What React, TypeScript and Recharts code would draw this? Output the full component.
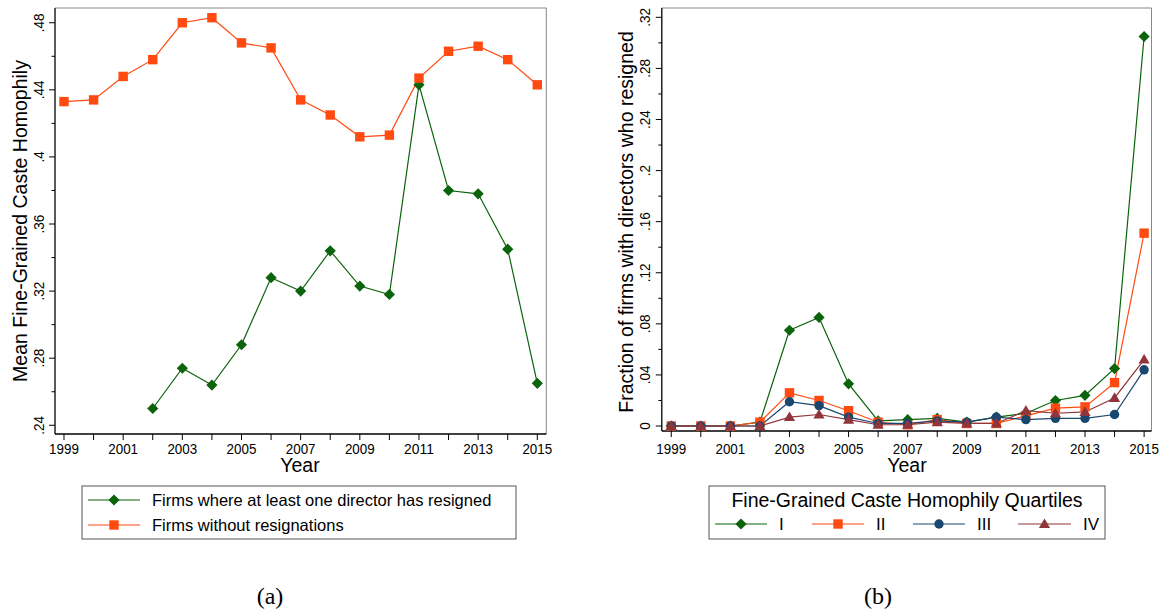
import React from 'react';
import { LineChart, Line, XAxis, YAxis, ReferenceLine } from 'recharts';

const years = [1999, 2000, 2001, 2002, 2003, 2004, 2005, 2006, 2007, 2008, 2009, 2010, 2011, 2012, 2013, 2014, 2015];

// panel (a)
const resignedMean = [null, null, null, 0.250, 0.274, 0.264, 0.288, 0.328, 0.320, 0.344, 0.323, 0.318, 0.443, 0.380, 0.378, 0.345, 0.265];
const noResignMean = [0.433, 0.434, 0.448, 0.458, 0.480, 0.483, 0.468, 0.465, 0.434, 0.425, 0.412, 0.413, 0.447, 0.463, 0.466, 0.458, 0.443];

// panel (b), quartiles I-IV
const q1 = [0, 0, 0, 0.003, 0.075, 0.085, 0.033, 0.004, 0.005, 0.006, 0.003, 0.007, 0.010, 0.020, 0.024, 0.045, 0.305];
const q2 = [0, 0, 0, 0.003, 0.026, 0.020, 0.012, 0.003, 0.001, 0.005, 0.002, 0.002, 0.008, 0.014, 0.015, 0.034, 0.151];
const q3 = [0, 0, 0, 0, 0.019, 0.016, 0.007, 0.002, 0.002, 0.004, 0.003, 0.007, 0.005, 0.006, 0.006, 0.009, 0.044];
const q4 = [0, 0, 0, 0, 0.007, 0.009, 0.005, 0.001, 0.001, 0.003, 0.002, 0.002, 0.012, 0.010, 0.011, 0.022, 0.052];

const ticksA = [0.24, 0.26, 0.28, 0.30, 0.32, 0.34, 0.36, 0.38, 0.40, 0.42, 0.44, 0.46, 0.48];
const ticksB = [0, 0.02, 0.04, 0.06, 0.08, 0.10, 0.12, 0.14, 0.16, 0.18, 0.20, 0.22, 0.24, 0.26, 0.28, 0.30, 0.32];

const FONT = '"Liberation Sans", Arial, sans-serif';
const SERIF = '"Liberation Serif", "Times New Roman", serif';
const GREEN = '#0b640b';
const ORANGE = '#ff4a12';
const NAVY = '#1a476f';
const MAROON = '#90353b';

const fmt = (v: number) => {
  if (Math.abs(v) < 1e-9) return '0';
  return String(Number(v.toFixed(2))).replace(/^0/, '');
};

// width in em of a numeric label (digits 0.556, dot 0.278)
const numEm = (s: string) => s.split('').reduce((a, c) => a + (c === '.' ? 0.278 : 0.556), 0);

function Marker({ shape, cx, cy, color }: { shape: string; cx: number; cy: number; color: string }) {
  if (shape === 'diamond') {
    const r = 5.6;
    return <polygon points={`${cx},${cy - r} ${cx + r},${cy} ${cx},${cy + r} ${cx - r},${cy}`} fill={color} />;
  }
  if (shape === 'square') return <rect x={cx - 4.7} y={cy - 4.7} width={9.4} height={9.4} fill={color} />;
  if (shape === 'circle') return <circle cx={cx} cy={cy} r={4.7} fill={color} />;
  return <polygon points={`${cx},${cy - 5.6} ${cx + 5.6},${cy + 4} ${cx - 5.6},${cy + 4}`} fill={color} />;
}

const dotFn = (shape: string, color: string) => (p: any) => {
  if (p.value == null || p.cy == null || Number.isNaN(p.cy)) return <g key={`n${p.index}`} />;
  return <Marker key={`d${p.index}`} shape={shape} cx={p.cx} cy={p.cy} color={color} />;
};

const XTick = (bottom: number, labelY: number) => (props: any) => {
  const { x, payload } = props;
  const yr = payload.value;
  const s = String(yr);
  return (
    <g>
      <line x1={x} x2={x} y1={bottom} y2={bottom + 6} stroke="#000" strokeWidth={1} />
      {yr % 2 === 1 && (
        <text x={x} y={labelY} textAnchor="middle" fontSize={15.5} fontFamily={FONT} fill="#000"
          textLength={numEm(s) * 13.4} lengthAdjust="spacingAndGlyphs">
          {s}
        </text>
      )}
    </g>
  );
};

const YTick = (left: number, gap: number) => (props: any) => {
  const { y, payload } = props;
  const v = payload.value;
  const major = Math.round(v * 100) % 4 === 0;
  const lx = left - gap;
  const s = fmt(v);
  return (
    <g>
      <line x1={left - (major ? 6 : 3.5)} x2={left} y1={y} y2={y} stroke="#000" strokeWidth={1} />
      {major && (
        <text x={lx} y={y} transform={`rotate(-90 ${lx} ${y})`} textAnchor="middle" fontSize={14.8} fontFamily={FONT} fill="#000"
          textLength={numEm(s) * 13.5} lengthAdjust="spacingAndGlyphs">
          {s}
        </text>
      )}
    </g>
  );
};

const dataA = years.map((year, i) => ({ year, resigned: resignedMean[i], noResign: noResignMean[i] }));
const dataB = years.map((year, i) => ({ year, q1: q1[i], q2: q2[i], q3: q3[i], q4: q4[i] }));

function PanelA() {
  const left = 55;
  const bottom = 434;
  const dom: [number, number] = [0.2348, 0.4888];
  const xmax = 2015.304;
  return (
    <LineChart width={580} height={480} data={dataA} margin={{ top: 8, right: 33.7, bottom: 0, left: 0 }}>
      <XAxis dataKey="year" type="number" domain={[1998.696, xmax]} ticks={years} interval={0} height={46}
        tickLine={false} tick={XTick(bottom, 454)} axisLine={{ stroke: '#000', strokeWidth: 1.3 }} allowDataOverflow />
      <YAxis type="number" domain={dom} ticks={ticksA} interval={0} width={left} tickLine={false}
        tick={YTick(left, 11)} axisLine={{ stroke: '#000', strokeWidth: 1.3 }} allowDataOverflow />
      <ReferenceLine y={dom[1]} stroke="#888" strokeWidth={1} />
      <ReferenceLine x={xmax} stroke="#888" strokeWidth={1} />
      <Line dataKey="resigned" stroke={GREEN} strokeWidth={1.2} dot={dotFn('diamond', GREEN)} isAnimationActive={false} />
      <Line dataKey="noResign" stroke={ORANGE} strokeWidth={1.2} dot={dotFn('square', ORANGE)} isAnimationActive={false} />
    </LineChart>
  );
}

function PanelB() {
  const left = 61.8;
  const bottom = 431;
  const dom: [number, number] = [-0.0039, 0.3273];
  const xmax = 2015.25;
  return (
    <LineChart width={561} height={480} data={dataB} margin={{ top: 8, right: 9.5, bottom: 0, left: 0 }}>
      <XAxis dataKey="year" type="number" domain={[1998.68, xmax]} ticks={years} interval={0} height={49}
        tickLine={false} tick={XTick(bottom, 454)} axisLine={{ stroke: '#000', strokeWidth: 1.3 }} allowDataOverflow />
      <YAxis type="number" domain={dom} ticks={ticksB} interval={0} width={left} tickLine={false}
        tick={YTick(left, 11.5)} axisLine={{ stroke: '#000', strokeWidth: 1.3 }} allowDataOverflow />
      <ReferenceLine y={dom[1]} stroke="#888" strokeWidth={1} />
      <ReferenceLine x={xmax} stroke="#888" strokeWidth={1} />
      <Line dataKey="q1" stroke={GREEN} strokeWidth={1.2} dot={dotFn('diamond', GREEN)} isAnimationActive={false} />
      <Line dataKey="q2" stroke={ORANGE} strokeWidth={1.2} dot={dotFn('square', ORANGE)} isAnimationActive={false} />
      <Line dataKey="q3" stroke={NAVY} strokeWidth={1.2} dot={dotFn('circle', NAVY)} isAnimationActive={false} />
      <Line dataKey="q4" stroke={MAROON} strokeWidth={1.2} dot={dotFn('triangle', MAROON)} isAnimationActive={false} />
    </LineChart>
  );
}

function LegendKey({ x1, x2, y, color, shape }: { x1: number; x2: number; y: number; color: string; shape: string }) {
  return (
    <g>
      <line x1={x1} x2={x2} y1={y} y2={y} stroke={color} strokeWidth={1.2} />
      <Marker shape={shape} cx={(x1 + x2) / 2} cy={y} color={color} />
    </g>
  );
}

export default function App() {
  return (
    <div style={{ position: 'absolute', left: 0, top: 0, width: 1161, height: 611, background: '#fff', fontFamily: FONT }}>
      <div style={{ position: 'absolute', left: 0, top: 0 }}>
        <PanelA />
      </div>
      <div style={{ position: 'absolute', left: 600, top: 0 }}>
        <PanelB />
      </div>
      <svg width={1161} height={611} style={{ position: 'absolute', left: 0, top: 0, pointerEvents: 'none' }}>
        <g fontFamily={FONT} fill="#000">
          <text x={27} y={221} transform="rotate(-90 27 221)" textAnchor="middle" fontSize={19.5}>
            Mean Fine-Grained Caste Homophily
          </text>
          <text x={633} y={222} transform="rotate(-90 633 222)" textAnchor="middle" fontSize={19.5}>
            Fraction of firms with directors who resigned
          </text>
          <text x={300} y={472} textAnchor="middle" fontSize={19.5}>Year</text>
          <text x={907} y={472} textAnchor="middle" fontSize={19.5}>Year</text>

          <rect x={82} y={486} width={434} height={53} fill="none" stroke="#555" strokeWidth={1} />
          <LegendKey x1={88} x2={140} y={500} color={GREEN} shape="diamond" />
          <LegendKey x1={88} x2={140} y={525} color={ORANGE} shape="square" />
          <text x={152} y={506} fontSize={16.5}>Firms where at least one director has resigned</text>
          <text x={152} y={531} fontSize={16.5}>Firms without resignations</text>

          <rect x={709} y={486} width={396} height={53} fill="none" stroke="#555" strokeWidth={1} />
          <text x={907} y={507} textAnchor="middle" fontSize={19.5}>Fine-Grained Caste Homophily Quartiles</text>
          <LegendKey x1={715} x2={767} y={524} color={GREEN} shape="diamond" />
          <text x={779} y={530} fontSize={17}>I</text>
          <LegendKey x1={812} x2={864} y={524} color={ORANGE} shape="square" />
          <text x={876} y={530} fontSize={17}>II</text>
          <LegendKey x1={913} x2={965} y={524} color={NAVY} shape="circle" />
          <text x={977} y={530} fontSize={17}>III</text>
          <LegendKey x1={1018} x2={1071} y={524} color={MAROON} shape="triangle" />
          <text x={1083} y={530} fontSize={17}>IV</text>

          <text x={270} y={604} textAnchor="middle" fontSize={24} fontFamily={SERIF}>(a)</text>
          <text x={878} y={604} textAnchor="middle" fontSize={24} fontFamily={SERIF}>(b)</text>
        </g>
      </svg>
    </div>
  );
}
